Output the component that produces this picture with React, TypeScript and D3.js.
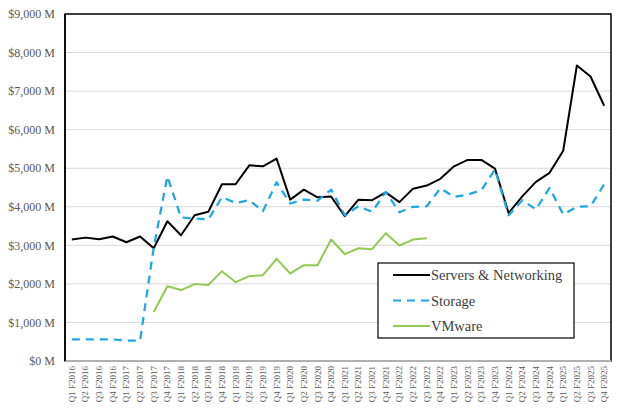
import * as d3 from "d3";

const fiscalYears = ["2016", "2017", "2018", "2019", "2020", "2021", "2022", "2023", "2024", "2025"];
const quarters = fiscalYears.flatMap(y => ["Q1", "Q2", "Q3", "Q4"].map(q => `${q} F${y}`));

// $M per quarter
const servers = [3150, 3200, 3160, 3230, 3080, 3230, 2925, 3625, 3260, 3780, 3870, 4585, 4585, 5075,
  5050, 5250, 4185, 4445, 4245, 4265, 3755, 4185, 4170, 4375, 4120, 4470, 4550, 4725,
  5050, 5215, 5215, 4990, 3840, 4270, 4645, 4880, 5455, 7665, 7380, 6620];
const storage = [560, 560, 560, 560, 530, 530, 2950, 4790, 3720, 3700, 3670, 4250, 4100, 4170,
  3885, 4635, 4085, 4185, 4160, 4445, 3780, 4015, 3870, 4385, 3860, 4000, 4015, 4480,
  4255, 4315, 4430, 4965, 3780, 4170, 3930, 4490, 3800, 4000, 4015, 4580];
const vmware: (number | null)[] = [null, null, null, null, null, null,
  1270, 1940, 1840, 1995, 1970, 2330, 2045, 2200, 2225, 2650, 2270, 2485, 2485, 3150, 2770,
  2925, 2900, 3315, 2995, 3150, 3185,
  null, null, null, null, null, null, null, null, null, null, null, null, null];

const seriesNames = ["Servers & Networking", "Storage", "VMware"];
const seriesColors = ["#000000", "#1ea7e1", "#92c953"];
const seriesDash = [null, "8,6", null];

export default function App() {
  const W = 620, H = 416;
  const m = { top: 14, right: 9, bottom: 55, left: 65 };
  const plotW = W - m.left - m.right;
  const plotH = H - m.top - m.bottom;

  const x = d3.scaleBand<string>().domain(quarters).range([0, plotW]);
  const cx = (i: number) => (x(quarters[i]) as number) + x.bandwidth() / 2;
  const y = d3.scaleLinear().domain([0, 9000]).range([plotH, 0]);
  const fmt = d3.format(",");

  const line = d3.line<number | null>()
    .defined(d => d != null)
    .x((_, i) => cx(i))
    .y(d => y(d as number));

  const data = [servers, storage, vmware];
  const font = "'Liberation Serif', 'Times New Roman', serif";

  return (
    <svg width={W} height={H} style={{ position: "absolute", left: 0, top: 0, background: "#fff" }} fontFamily={font}>
      <g transform={`translate(${m.left},${m.top})`}>
        {/* grid */}
        {y.ticks(9).map(t => (
          <g key={t}>
            <line x1={0} x2={plotW} y1={y(t)} y2={y(t)} stroke="#d9d9d9" strokeWidth={1} />
            <text x={-10} y={y(t)} dy="0.35em" textAnchor="end" fontSize={12} fill="#595959">
              {`$${fmt(t)} M`}
            </text>
          </g>
        ))}
        {/* plot border */}
        <rect x={0} y={0} width={plotW} height={plotH} fill="none" stroke="#000" strokeWidth={1.5} />
        <line x1={0} x2={plotW} y1={plotH} y2={plotH} stroke="#d9d9d9" strokeWidth={1.5} />
        <line x1={0} x2={0} y1={0} y2={plotH} stroke="#000" strokeWidth={1.5} />

        {/* x labels */}
        {quarters.map((q, i) => (
          <text key={q} transform={`translate(${cx(i) + 3},${plotH + 5}) rotate(-90)`}
            textAnchor="end" fontSize={9} fill="#595959">{q}</text>
        ))}

        {/* lines */}
        {data.map((d, k) => (
          <path key={k} d={line(d) as string} fill="none" stroke={seriesColors[k]}
            strokeWidth={k === 1 ? 2.25 : 2} strokeDasharray={seriesDash[k] ?? undefined}
            strokeLinejoin="round" />
        ))}

        {/* legend */}
        <g transform={`translate(${378 - m.left},${263 - m.top})`}>
          <rect x={0} y={0} width={196} height={75} fill="#fff" stroke="#000" strokeWidth={1.2} />
          {seriesNames.map((s, k) => (
            <g key={s} transform={`translate(0,${12 + k * 25.5})`}>
              <line x1={15} x2={52} y1={0} y2={0} stroke={seriesColors[k]} strokeWidth={2}
                strokeDasharray={seriesDash[k] ?? undefined} />
              <text x={53} y={0} dy="0.35em" fontSize={14.5} fill="#404040">{s}</text>
            </g>
          ))}
        </g>
      </g>
    </svg>
  );
}
